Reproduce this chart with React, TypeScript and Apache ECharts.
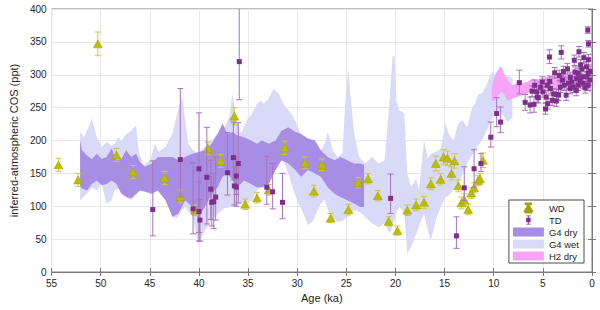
import React, { useEffect, useRef } from "react";
import * as echarts from "echarts";

// ---------- axis setup ----------
const X_MIN = 0;
const X_MAX = 55;
const X_STEP = 5;
const Y_MIN = 0;
const Y_MAX = 400;
const Y_STEP = 50;

// ---------- WD (triangles) ----------
const wdAge = [54.3, 52.3, 50.3, 48.4, 46.7, 43.5, 41.9, 40.4, 39.1, 37.8, 36.4, 35.3, 34.1, 32.9, 31.3, 29.2, 28.3, 27.5, 26.6, 24.8, 23.8, 22.8, 21.8, 20.7, 19.8, 18.8, 17.9, 17.1, 16.4, 15.9, 15.4, 15.1, 14.7, 14.3, 14.0, 13.6, 13.3, 13.0, 12.6, 12.3, 12.0, 11.6, 11.4, 11.1];
const wdVal = [163, 140, 347, 178, 152, 143, 115, 94, 188, 169, 237, 103, 113, 125, 189, 166, 123, 163, 82, 95, 136, 142, 116, 77, 63, 94, 102, 106, 134, 165, 141, 175, 173, 150, 169, 131, 105, 110, 95, 120, 128, 139, 142, 170];
const wdErr = [10, 10, 18, 10, 10, 10, 10, 8, 10, 10, 13, 8, 8, 8, 10, 9, 9, 9, 7, 8, 8, 8, 8, 7, 7, 8, 9, 9, 9, 11, 9, 11, 11, 10, 11, 9, 9, 9, 8, 8, 8, 8, 8, 11];

// ---------- TD (squares) ----------
const tdAge = [44.7, 41.9, 40.6, 40.0, 40.0, 39.9, 39.2, 38.8, 38.7, 38.5, 38.3, 37.1, 36.5, 36.4, 36.2, 36.2, 36.0, 35.9, 33.1, 32.5, 31.5, 20.5, 13.8, 13.0, 12.0, 11.3, 10.3, 9.7, 9.3, 7.4, 6.8, 6.3, 5.9, 4.33, 3.13,
  0.43, 0.36, 1.33, 0.83, 0.36, 1.8, 1.16, 2.5, 3.8, 2.9, 3.33, 5.06, 4.56, 6.1, 5.46, 5.0, 4.66, 4.5, 4.73, 4.06, 3.63, 3.9, 3.4, 3.23, 2.63, 2.23, 2.06, 1.56, 1.06, 0.56, 0.9, 0.4, 1.4, 1.9, 2.4, 2.83, 4.23, 5.23, 5.63, 5.83, 0.56, 1.03, 1.73, 1.4, 0.4, 0.23, 3.6, 5.56, 1.2, 0.7, 2.2, 3.0, 4.3, 1.6, 0.2];
const tdVal = [95, 171, 96, 157, 92, 79, 144, 126, 106, 107, 114, 151, 174, 131, 146, 129, 165, 320, 129, 122, 106, 112, 55, 128, 157, 165, 205, 241, 228, 288, 258, 254, 255, 327, 334,
  368, 347, 335, 326, 323, 322, 315, 309, 303, 305, 299, 289, 284, 275, 265, 274, 266, 256, 248, 261, 260, 271, 269, 281, 269, 279, 289, 294, 297, 297, 287, 284, 284, 281, 287, 284, 279, 281, 274, 284, 312, 309, 304, 302, 302, 292, 270, 266, 290, 280, 296, 292, 290, 276, 305];
const tdMinus = [40, 57, 38, 110, 32, 32, 71, 46, 36, 41, 35, 34, 34, 29, 28, 29, 60, 58, 26, 26, 25, 23, 19, 19, 28, 12, 15, 20, 16, 17, 12, 12, 12, 10, 10,
  5, 5, 8, 8, 8, 8, 8, 8, 8, 8, 8, 8, 8, 8, 8, 8, 8, 8, 8, 8, 8, 8, 8, 8, 8, 8, 8, 8, 8, 8, 8, 8, 8, 8, 8, 8, 8, 8, 8, 8, 8, 8, 8, 8, 8, 8, 8, 8, 8, 8, 8, 8, 8, 8, 8];
const tdPlus = [74, 108, 70, 85, 45, 31, 76, 44, 39, 43, 61, 61, 54, 29, 29, 31, 62, 100, 47, 43, 44, 37, 29, 32, 29, 15, 23, 24, 23, 19, 12, 12, 12, 11, 10,
  5, 5, 8, 8, 8, 8, 8, 8, 8, 8, 8, 8, 8, 8, 8, 8, 8, 8, 8, 8, 8, 8, 8, 8, 8, 8, 8, 8, 8, 8, 8, 8, 8, 8, 8, 8, 8, 8, 8, 8, 8, 8, 8, 8, 8, 8, 8, 8, 8, 8, 8, 8, 8, 8, 8];

// ---------- G4 dry band ----------
const g4DryAge = [52.1, 51.9, 51.4, 50.9, 50.4, 49.9, 49.4, 48.9, 48.4, 47.9, 47.4, 46.9, 46.4, 46.0, 45.5, 44.8, 44.2, 43.4, 42.7, 42.1, 41.4, 40.7, 40.1, 39.4, 38.7, 38.1, 37.6, 37.1, 36.6, 36.1, 35.4, 34.7, 34.1, 33.6, 32.9, 32.2, 31.6, 30.9, 30.2, 29.6, 28.9, 28.2, 27.6, 26.9, 26.2, 25.6, 24.9, 24.2, 23.6, 23.2];
const g4DryUpper = [200, 185, 177, 172, 180, 172, 175, 188, 170, 172, 185, 175, 180, 167, 160, 165, 175, 175, 175, 170, 175, 180, 182, 185, 195, 210, 226, 210, 213, 208, 205, 200, 195, 200, 195, 200, 215, 220, 213, 210, 203, 200, 185, 175, 170, 175, 170, 165, 165, 163];
const g4DryLower = [130, 127, 124, 134, 139, 132, 134, 139, 134, 119, 114, 112, 119, 124, 122, 119, 124, 109, 84, 89, 109, 99, 82, 99, 119, 129, 145, 150, 140, 129, 139, 134, 129, 129, 134, 155, 170, 165, 155, 145, 155, 150, 145, 129, 119, 114, 109, 104, 99, 99];

// ---------- G4 wet band ----------
const g4WetAge = [52.1, 51.7, 51.4, 50.9, 50.4, 49.9, 49.4, 48.9, 48.6, 48.2, 47.9, 47.4, 46.9, 46.4, 46.1, 45.6, 44.9, 44.5, 44.1, 43.4, 42.7, 42.2, 41.7, 41.4, 41.1, 40.6, 40.1, 39.4, 38.7, 38.1, 37.4, 36.9, 36.6, 36.2, 35.7, 35.1, 34.6, 34.1, 33.7, 33.4, 32.9, 32.4, 31.9, 31.4, 30.9, 30.4, 29.9, 29.4, 28.9, 28.4, 27.9, 27.6, 27.2, 26.9, 26.6, 26.4, 25.9, 25.4, 25.1, 24.8, 24.6, 24.2, 23.7, 23.1, 22.4, 21.7, 21.1, 20.6, 20.3, 20.1, 19.9, 19.6, 19.1, 18.8, 18.4, 17.9, 17.6, 17.1, 16.7, 16.4, 15.9, 15.4, 14.9, 14.6, 14.1, 13.6, 13.2, 12.7, 12.2, 11.9, 11.6, 11.2, 10.7, 10.4, 10.1, 9.7, 9.4, 9.1, 8.6, 8.1];
const g4WetUpper = [213, 205, 215, 233, 205, 190, 198, 192, 195, 205, 200, 210, 215, 223, 180, 162, 172, 195, 183, 190, 211, 241, 269, 231, 196, 185, 180, 190, 200, 211, 220, 236, 272, 231, 211, 231, 241, 256, 261, 256, 264, 279, 271, 256, 246, 236, 220, 200, 190, 180, 180, 185, 195, 213, 200, 185, 175, 180, 261, 309, 271, 210, 175, 165, 175, 165, 170, 261, 328, 328, 261, 246, 241, 150, 129, 142, 124, 200, 172, 180, 183, 188, 226, 210, 200, 226, 231, 220, 250, 256, 270, 272, 285, 299, 305, 296, 314, 305, 298, 295];
const g4WetLower = [109, 115, 119, 129, 124, 134, 104, 109, 124, 127, 129, 114, 109, 117, 124, 132, 136, 128, 129, 109, 84, 82, 95, 99, 92, 84, 41, 63, 79, 89, 97, 99, 99, 101, 104, 104, 109, 124, 129, 128, 134, 160, 170, 168, 150, 125, 105, 90, 71, 78, 95, 104, 110, 95, 85, 82, 76, 78, 82, 84, 88, 94, 92, 84, 74, 68, 74, 58, 70, 79, 90, 99, 90, 28, 38, 58, 70, 89, 63, 48, 79, 99, 114, 116, 125, 135, 148, 165, 178, 185, 192, 200, 216, 226, 236, 246, 245, 240, 228, 235];

// ---------- H2 dry band ----------
const h2DryAge = [10.2, 9.9, 9.6, 9.2, 8.9, 8.6, 8.1, 7.6, 7.1, 6.6, 6.1, 5.6, 5.0, 4.0, 3.0, 2.0, 1.0, 0.0];
const h2DryUpper = [281, 299, 307, 312, 299, 292, 284, 287, 287, 289, 294, 292, 295, 298, 300, 302, 298, 290];
const h2DryLower = [261, 261, 269, 274, 269, 261, 264, 266, 269, 271, 276, 274, 277, 279, 281, 283, 280, 272];

// ---------- colours ----------
const C_WD = "#BDBD00";
const C_WD_ERR = "#C9C94A";
const C_TD = "#7E2F8E";
const C_TD_ERR = "#A874B6";
const C_DRY = "#A78DE3";
const C_WET = "#D9D9F8";
const C_H2 = "#F7A3F7";

const FONT = "'Liberation Sans', Arial, Helvetica, sans-serif";

const WD_ICON = "path://M0,0h6v0.8h-6z M2.6,0h0.8v10h-0.8z M0,9.2h6v0.8h-6z M3,1.8L7,8.6H-1z";
const TD_ICON = "path://M0,0h5v0.8h-5z M2.1,0h0.8v10h-0.8z M0,9.2h5v0.8h-5z M0,2.5h5v5h-5z";

function bandSeries(name: string, ages: number[], upper: number[], lower: number[], color: string, z: number) {
  const data = ages.map((a, i) => [a, lower[i], upper[i]]);
  return {
    type: "custom",
    name,
    z,
    silent: true,
    clip: true,
    itemStyle: { color },
    encode: { x: 0, y: [1, 2] },
    data,
    renderItem: (params: any, api: any) => {
      if (params.dataIndex !== 0) return null;
      const pts: number[][] = [];
      for (let i = 0; i < ages.length; i++) pts.push(api.coord([ages[i], upper[i]]));
      for (let i = ages.length - 1; i >= 0; i--) pts.push(api.coord([ages[i], lower[i]]));
      return { type: "polygon", shape: { points: pts }, style: { fill: color } };
    },
  };
}

function errSeries(name: string, ages: number[], vals: number[], minus: number[], plus: number[], color: string, cap: number, z: number) {
  const data = ages.map((a, i) => [a, vals[i] - minus[i], vals[i] + plus[i]]);
  return {
    type: "custom",
    name,
    z,
    silent: true,
    clip: true,
    encode: { x: 0, y: [1, 2] },
    data,
    renderItem: (params: any, api: any) => {
      const x = api.value(0);
      const a = api.coord([x, api.value(1)]);
      const b = api.coord([x, api.value(2)]);
      const st = { stroke: color, lineWidth: 1, fill: null };
      return {
        type: "group",
        children: [
          { type: "line", shape: { x1: a[0], y1: a[1], x2: b[0], y2: b[1] }, style: st },
          { type: "line", shape: { x1: a[0] - cap, y1: a[1], x2: a[0] + cap, y2: a[1] }, style: st },
          { type: "line", shape: { x1: b[0] - cap, y1: b[1], x2: b[0] + cap, y2: b[1] }, style: st },
        ],
      };
    },
  };
}

const AXIS_COLOR = "#7a7a7a";
const LABEL_COLOR = "#262626";

export default function App() {
  const ref = useRef<HTMLDivElement>(null);
  useEffect(() => {
    const chart = echarts.init(ref.current!, null, { renderer: "svg" });
    const option: any = {
      animation: false,
      backgroundColor: "#ffffff",
      textStyle: { fontFamily: FONT },
      grid: { left: 42, right: 8, top: 9, bottom: 38, show: true, borderColor: AXIS_COLOR, borderWidth: 1, backgroundColor: "#ffffff" },
      xAxis: [
        {
          type: "value", min: X_MIN, max: X_MAX, interval: X_STEP, inverse: true, position: "bottom",
          name: "Age (ka)", nameLocation: "middle", nameGap: 20,
          nameTextStyle: { fontSize: 11, color: LABEL_COLOR, fontFamily: FONT },
          axisLine: { show: true, lineStyle: { color: AXIS_COLOR } },
          axisTick: { show: true, inside: true, length: 4, lineStyle: { color: AXIS_COLOR } },
          axisLabel: { fontSize: 10, color: LABEL_COLOR, margin: 6, fontFamily: FONT },
          splitLine: { show: true, lineStyle: { color: "#e8e8e8" } },
        },
        {
          type: "value", min: X_MIN, max: X_MAX, interval: X_STEP, inverse: true, position: "top",
          axisLine: { show: true, lineStyle: { color: AXIS_COLOR } },
          axisTick: { show: true, inside: true, length: 4, lineStyle: { color: AXIS_COLOR } },
          axisLabel: { show: false },
          splitLine: { show: false },
        },
      ],
      yAxis: [
        {
          type: "value", min: Y_MIN, max: Y_MAX, interval: Y_STEP, position: "left",
          name: "inferred-atmospheric COS (ppt)", nameLocation: "middle", nameGap: 24,
          nameTextStyle: { fontSize: 11, color: LABEL_COLOR, fontFamily: FONT },
          axisLine: { show: true, lineStyle: { color: AXIS_COLOR } },
          axisTick: { show: true, inside: true, length: 4, lineStyle: { color: AXIS_COLOR } },
          axisLabel: { fontSize: 10, color: LABEL_COLOR, margin: 5, fontFamily: FONT },
          splitLine: { show: true, lineStyle: { color: "#e8e8e8" } },
        },
        {
          type: "value", min: Y_MIN, max: Y_MAX, interval: Y_STEP, position: "right",
          axisLine: { show: true, lineStyle: { color: AXIS_COLOR } },
          axisTick: { show: true, inside: true, length: 4, lineStyle: { color: AXIS_COLOR } },
          axisLabel: { show: false },
          splitLine: { show: false },
        },
      ],
      legend: {
        orient: "vertical",
        right: 16,
        bottom: 47,
        backgroundColor: "#ffffff",
        borderColor: "#4d4d4d",
        borderWidth: 1,
        borderRadius: 0,
        padding: [2, 5, 1, 4],
        itemWidth: 31,
        itemHeight: 9,
        itemGap: 0,
        selectedMode: false,
        textStyle: { fontSize: 9.5, color: LABEL_COLOR, lineHeight: 12, fontFamily: FONT },
        data: [
          { name: "WD", icon: WD_ICON, itemStyle: { color: C_WD } },
          { name: "TD", icon: TD_ICON, itemStyle: { color: C_TD } },
          { name: "G4 dry", icon: "rect", itemStyle: { color: C_DRY } },
          { name: "G4 wet", icon: "rect", itemStyle: { color: C_WET } },
          { name: "H2 dry", icon: "rect", itemStyle: { color: C_H2 } },
        ],
      },
      series: [
        bandSeries("G4 wet", g4WetAge, g4WetUpper, g4WetLower, C_WET, 1),
        bandSeries("G4 dry", g4DryAge, g4DryUpper, g4DryLower, C_DRY, 2),
        bandSeries("H2 dry", h2DryAge, h2DryUpper, h2DryLower, C_H2, 2),
        errSeries("WD err", wdAge, wdVal, wdErr, wdErr, C_WD_ERR, 3, 3),
        {
          type: "scatter", name: "WD", z: 4,
          data: wdAge.map((a, i) => [a, wdVal[i]]),
          symbol: "triangle", symbolSize: [9, 8],
          itemStyle: { color: C_WD, borderColor: "#a3a300", borderWidth: 0.5, opacity: 1 },
        },
        errSeries("TD err", tdAge, tdVal, tdMinus, tdPlus, C_TD_ERR, 3, 5),
        {
          type: "scatter", name: "TD", z: 6,
          data: tdAge.map((a, i) => [a, tdVal[i]]),
          symbol: "rect", symbolSize: 5,
          itemStyle: { color: C_TD, opacity: 1 },
        },
      ],
    };
    chart.setOption(option);
    return () => chart.dispose();
  }, []);
  return <div ref={ref} style={{ position: "fixed", left: 0, top: 0, width: 600, height: 310, background: "#fff" }} />;
}
